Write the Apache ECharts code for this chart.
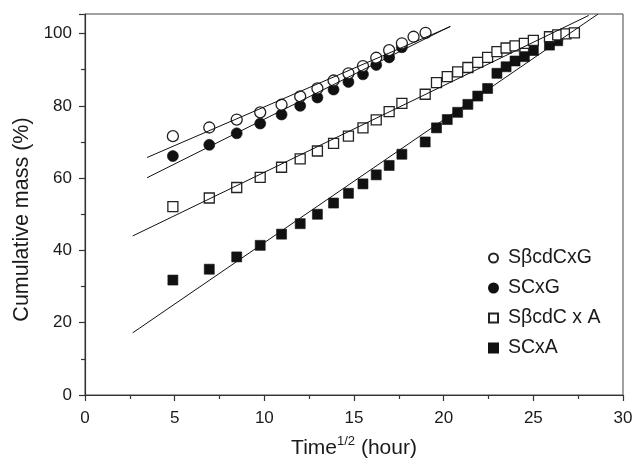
<!DOCTYPE html>
<html><head><meta charset="utf-8">
<script src="https://cdn.jsdelivr.net/npm/echarts@6/dist/echarts.min.js"></script>
<style>html,body{margin:0;padding:0;background:#fff}#c{width:633px;height:463px}</style>
</head><body><div id="c"></div>
<script>
// Series names (legend order)
const seriesNames = ['SβcdCxG', 'SCxG', 'SβcdC x A', 'SCxA'];

// SβcdCxG (open circles)
const openCircleX = [4.9, 6.93, 8.46, 9.77, 10.96, 12.0, 12.96, 13.86, 14.69, 15.5, 16.24, 16.96, 17.67, 18.32, 18.99];
const openCircleY = [71.6, 74.0, 76.2, 78.2, 80.3, 82.6, 84.8, 87.0, 89.0, 91.0, 93.3, 95.4, 97.3, 99.1, 100.2];

// SCxG (filled circles)
const filledCircleX = [4.9, 6.93, 8.46, 9.77, 10.96, 12.0, 12.96, 13.86, 14.69, 15.5, 16.24, 16.96, 17.67];
const filledCircleY = [66.1, 69.2, 72.4, 75.1, 77.6, 80.0, 82.3, 84.5, 86.6, 88.7, 91.3, 93.4, 96.2];

// SβcdCxA (open squares)
const openSquareX = [4.9, 6.93, 8.46, 9.77, 10.96, 12.0, 12.96, 13.86, 14.69, 15.5, 16.24, 16.96, 17.67,
  18.97, 19.6, 20.2, 20.78, 21.35, 21.9, 22.45, 22.97, 23.48, 23.98, 24.5, 25.0,
  25.9, 26.36, 26.82, 27.29];
const openSquareY = [52.1, 54.5, 57.4, 60.2, 63.0, 65.3, 67.5, 69.6, 71.6, 73.9, 76.1, 78.4, 80.7,
  83.2, 86.4, 88.1, 89.4, 90.6, 92.0, 93.4, 95.0, 96.0, 96.6, 97.3, 98.1,
  99.1, 99.6, 99.9, 100.2];

// SCxA (filled squares)
const filledSquareX = [4.9, 6.93, 8.46, 9.77, 10.96, 12.0, 12.96, 13.86, 14.69, 15.5, 16.24, 16.96, 17.67,
  18.97, 19.6, 20.2, 20.78, 21.35, 21.9, 22.45, 22.97, 23.48, 23.98, 24.5, 25.0,
  25.9, 26.36];
const filledSquareY = [31.8, 34.8, 38.2, 41.4, 44.5, 47.4, 50.0, 53.1, 55.8, 58.4, 60.9, 63.5, 66.6,
  70.0, 73.9, 76.2, 78.2, 80.4, 82.7, 84.8, 89.0, 90.8, 92.4, 93.6, 95.3,
  96.8, 98.0];

// Fitted straight lines (end points)
const fitOpenCircleX = [3.46, 20.37];  const fitOpenCircleY = [65.7, 101.9];
const fitFilledCircleX = [3.46, 20.37]; const fitFilledCircleY = [60.1, 102.0];
const fitOpenSquareX = [2.66, 28.09];  const fitOpenSquareY = [44.0, 105.0];
const fitFilledSquareX = [2.66, 28.61]; const fitFilledSquareY = [17.2, 105.4];

// Axis settings
const xMin = 0, xMax = 30, xStep = 5;
const yMin = 0, yMax = 105.4, yStep = 20;

const zip = (xs, ys) => xs.map((x, i) => [x, ys[i]]);
const FONT = '"Liberation Sans", Arial, Helvetica, sans-serif';
const INK = '#1a1a1a';

const chart = echarts.init(document.getElementById('c'), null, {renderer: 'canvas'});

function scatter(name, symbol, size, filled, data, z) {
  return {
    name, type: 'scatter', symbol, symbolSize: size, data, z,
    itemStyle: filled
      ? {color: '#111111', borderColor: '#111111', borderWidth: 0.6, opacity: 1}
      : {color: '#ffffff', borderColor: '#222222', borderWidth: 1.3, opacity: 1},
    emphasis: {disabled: true}
  };
}
function fitLine(xs, ys) {
  return {
    type: 'line', data: zip(xs, ys), symbol: 'none', z: 10, silent: true,
    lineStyle: {color: '#111', width: 1}
  };
}
const tickFmt = step => v => (Math.abs(v / step - Math.round(v / step)) < 1e-6 ? String(v) : '');

chart.setOption({
  animation: false,
  backgroundColor: '#ffffff',
  textStyle: {fontFamily: FONT},
  grid: {left: 85, right: 10, top: 14, bottom: 68, outerBoundsMode: 'none', containLabel: false,
         show: true, borderColor: '#444', borderWidth: 1, backgroundColor: 'transparent'},
  xAxis: {
    type: 'value', min: xMin, max: xMax, interval: xStep,
    name: '{a|Time}{b|1/2}{a| (hour)}', nameLocation: 'middle', nameGap: 40,
    nameTextStyle: {rich: {
      a: {fontSize: 21, fontFamily: FONT, color: INK, lineHeight: 26},
      b: {fontSize: 13, fontFamily: FONT, color: INK, lineHeight: 26, verticalAlign: 'top'}
    }},
    axisLine: {show: true, lineStyle: {color: '#333', width: 1.2}},
    axisTick: {show: true, inside: false, length: 6, lineStyle: {color: '#333', width: 1.2}},
    minorTick: {show: true, splitNumber: 2, length: 4, lineStyle: {color: '#333', width: 1.2}},
    axisLabel: {fontSize: 17, color: INK, margin: 15, fontFamily: FONT, formatter: tickFmt(xStep)},
    splitLine: {show: false}
  },
  yAxis: {
    type: 'value', min: yMin, max: yMax, interval: yStep,
    name: 'Cumulative mass (%)', nameLocation: 'middle', nameGap: 46,
    nameTextStyle: {fontSize: 21.5, color: INK, fontFamily: FONT, padding: [0, 30, 0, 0]},
    axisLine: {show: true, lineStyle: {color: '#333', width: 1.2}},
    axisTick: {show: true, inside: false, length: 6, lineStyle: {color: '#333', width: 1.2}},
    minorTick: {show: true, splitNumber: 2, length: 4, lineStyle: {color: '#333', width: 1.2}},
    axisLabel: {fontSize: 17, color: INK, margin: 13, fontFamily: FONT, formatter: tickFmt(yStep), showMaxLabel: false},
    splitLine: {show: false}
  },
  legend: {
    data: seriesNames, orient: 'vertical', left: 483, top: 243,
    itemWidth: 9, itemHeight: 9, itemGap: 10,
    textStyle: {fontSize: 19.5, color: INK, fontFamily: FONT, lineHeight: 20, padding: [0, 0, 0, 5]},
    selectedMode: false
  },
  series: [
    scatter(seriesNames[1], 'circle', 11, true, zip(filledCircleX, filledCircleY), 2),
    scatter(seriesNames[0], 'circle', 11, false, zip(openCircleX, openCircleY), 3),
    scatter(seriesNames[3], 'rect', 10, true, zip(filledSquareX, filledSquareY), 2),
    scatter(seriesNames[2], 'rect', 10, false, zip(openSquareX, openSquareY), 3),
    fitLine(fitOpenCircleX, fitOpenCircleY),
    fitLine(fitFilledCircleX, fitFilledCircleY),
    fitLine(fitOpenSquareX, fitOpenSquareY),
    fitLine(fitFilledSquareX, fitFilledSquareY)
  ]
});
</script></body></html>
